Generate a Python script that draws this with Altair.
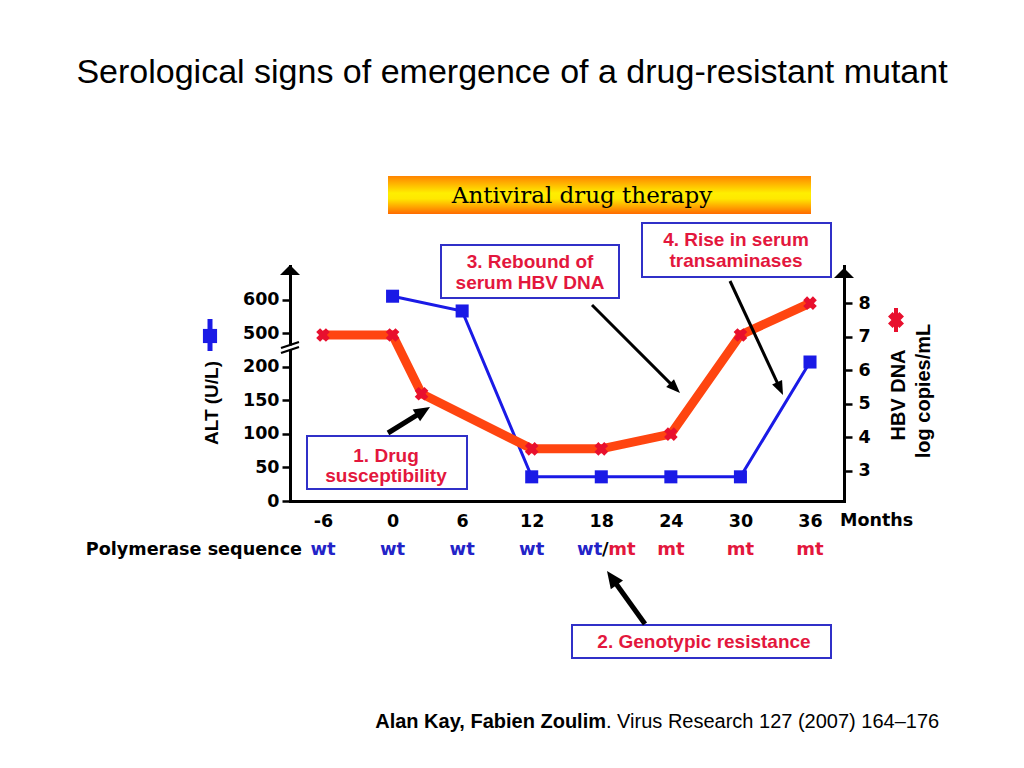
import json
import math
import altair as alt
import pandas as pd

# ---------------- data ----------------
months_axis = [-6, 0, 6, 12, 18, 24, 30, 36]
alt_months = [0, 6, 12, 18, 24, 30, 36]
alt_values = [610, 566, 36, 36, 36, 36, 207]          # ALT (U/L)
hbv_months = [-6, 0, 2.5, 12, 18, 24, 30, 36]
hbv_values = [7.05, 7.05, 5.3, 3.66, 3.66, 4.1, 7.05, 8.0]  # log copies/mL
alt_tick_pos = [0, 1, 2, 3, 4, 5, 6]
alt_tick_labels = ["0", "50", "100", "150", "200", "500", "600"]
hbv_ticks = [3, 4, 5, 6, 7, 8]
seq_labels = ["wt", "wt", "wt", "wt", "wt/mt", "mt", "mt", "mt"]

# ---------------- style ----------------
SANS = "Liberation Sans"
DJV = "DejaVu Sans"
BLUE = "#1a1ae6"
LINE_RED = "#ff4510"
MARK_RED = "#e8102e"
BOX_BLUE = "#3030c8"
TXT_RED = "#e3173d"
SEQ_BLUE = "#2323c8"

W, H = 554, 235
PX0, PX1, PY0, PY1 = 290, 844, 266, 501

ax_common = dict(title=None, grid=False, domainColor="black", domainWidth=3, domainCap="square",
                 tickColor="black", tickWidth=2.5, labelFont=DJV, labelFontSize=17.5,
                 labelFontWeight="bold", labelColor="black", labelFlush=False, labelOverlap=False)

X = alt.X("m:Q", scale=alt.Scale(domain=[-8.846, 38.932], nice=False, zero=False),
          axis=alt.Axis(values=months_axis, tickSize=0, labelPadding=11,
                        labelExpr="'' + datum.value", **ax_common))

label_expr = json.dumps(alt_tick_labels) + "[datum.value]"
Y_LEFT = alt.Y("pos:Q", scale=alt.Scale(domain=[0, 7], nice=False, zero=False),
               axis=alt.Axis(values=alt_tick_pos, labelExpr=label_expr, orient="left",
                             tickSize=8, labelPadding=3, **ax_common))
Y_RIGHT = alt.Y("v:Q", scale=alt.Scale(domain=[2.106, 9.106], nice=False, zero=False),
                axis=alt.Axis(values=hbv_ticks, orient="right", tickSize=8, labelPadding=6, **ax_common))

# ---------------- data layers ----------------
alt_df = pd.DataFrame({"m": alt_months, "alt_ul": alt_values})
alt_base = alt.Chart(alt_df).transform_calculate(
    pos="datum.alt_ul <= 350 ? datum.alt_ul / 50 : 5 + (datum.alt_ul - 500) / 100")
alt_line = alt_base.mark_line(color=BLUE, strokeWidth=3).encode(x=X, y=Y_LEFT)
alt_pts = alt_base.mark_square(color=BLUE, size=170, opacity=1).encode(x=X, y=Y_LEFT)

SEQ_Y = 550 - PY0
SEQ_FS = 18
seq_rows = []
for m, s in zip(months_axis, seq_labels):
    if "/" not in s:
        seq_rows.append({"m": m, "s": s, "c": SEQ_BLUE if s == "wt" else TXT_RED})
seq_df = pd.DataFrame(seq_rows)
seq_layer = alt.Chart(seq_df).mark_text(font=DJV, fontSize=SEQ_FS, fontWeight="bold", baseline="middle").encode(
    x=X, y=alt.value(SEQ_Y), text="s:N", color=alt.Color("c:N", scale=None))
mixed_layers = []
for m, s in zip(months_axis, seq_labels):
    if "/" not in s:
        continue
    a, b = s.split("/")
    d = pd.DataFrame({"m": [m]})
    kw = dict(font=DJV, fontSize=SEQ_FS, fontWeight="bold", baseline="middle")
    mixed_layers.append(alt.Chart(d).mark_text(align="right", dx=1, color=SEQ_BLUE, text=a, **kw)
                        .encode(x=X, y=alt.value(SEQ_Y)))
    mixed_layers.append(alt.Chart(d).mark_text(align="center", dx=4, color="black", text="/", **kw)
                        .encode(x=X, y=alt.value(SEQ_Y)))
    mixed_layers.append(alt.Chart(d).mark_text(align="left", dx=7, color=TXT_RED, text=b, **kw)
                        .encode(x=X, y=alt.value(SEQ_Y)))

left_group = alt.layer(alt_line, alt_pts, seq_layer, *mixed_layers)

hbv_df = pd.DataFrame({"m": hbv_months, "v": hbv_values})
hbv_line = alt.Chart(hbv_df).mark_line(color=LINE_RED, strokeWidth=9).encode(x=X, y=Y_RIGHT)
hbv_pts = alt.Chart(hbv_df).mark_point(shape="cross", angle=45, filled=True, color=MARK_RED,
                                      size=190, opacity=1).encode(x=X, y=Y_RIGHT)
right_group = alt.layer(hbv_line, hbv_pts)

data_group = alt.layer(left_group, right_group).resolve_scale(y="independent")

# ---------------- decorations (page pixel coordinates) ----------------
DX = alt.X("x:Q", scale=alt.Scale(domain=[PX0, PX1], nice=False, zero=False), axis=None)
DY = alt.Y("y:Q", scale=alt.Scale(domain=[PY0, PY1], nice=False, zero=False, reverse=True), axis=None)


def texts(rows, size, weight="bold", font=SANS, color="black", align="center", angle=0):
    df = pd.DataFrame(rows, columns=["x", "y", "t"])
    return alt.Chart(df).mark_text(fontSize=size, fontWeight=weight, font=font, color=color,
                                   align=align, angle=angle, baseline="middle").encode(x=DX, y=DY, text="t:N")


def rules(rows, width, color="black"):
    df = pd.DataFrame(rows, columns=["x", "y", "x2", "y2"])
    return alt.Chart(df).mark_rule(strokeWidth=width, color=color).encode(
        x=DX, y=DY, x2="x2:Q", y2="y2:Q")


def rects(rows, **kw):
    df = pd.DataFrame(rows, columns=["x", "y", "x2", "y2"])
    return alt.Chart(df).mark_rect(**kw).encode(x=DX, y=DY, x2="x2:Q", y2="y2:Q")


deco = []
# title & citation
deco.append(texts([(512, 73, "Serological signs of emergence of a drug-resistant mutant")], 34, weight="normal"))
deco.append(texts([(606, 722, "Alan Kay, Fabien Zoulim")], 20, align="right"))
deco.append(texts([(606, 722, ". Virus Research 127 (2007) 164\u2013176")], 20, weight="normal", align="left"))

# banner
grad = alt.Gradient(gradient="linear",
                    stops=[alt.GradientStop(color="#ff8400", offset=0),
                           alt.GradientStop(color="#ffee00", offset=0.45),
                           alt.GradientStop(color="#ffe800", offset=0.6),
                           alt.GradientStop(color="#ff6a00", offset=1)],
                    x1=0, x2=0, y1=0, y2=1)
deco.append(rects([(388, 176, 811, 214)], fill=grad))
deco.append(texts([(582, 196, "Antiviral drug therapy")], 23, weight="normal", font="DejaVu Serif"))

# annotation boxes
boxes = [(307, 436, 467, 489), (441, 245, 619, 298), (642, 223, 831, 277), (572, 625, 831, 658)]
deco.append(rects(boxes, fill="white", stroke=BOX_BLUE, strokeWidth=2))
deco.append(texts([(386, 456, "1. Drug"), (386, 476, "susceptibility"),
                   (530, 262, "3. Rebound of"), (530, 283, "serum HBV DNA"),
                   (736, 240, "4. Rise in serum"), (736, 261, "transaminases"),
                   (704, 642, "2. Genotypic resistance")], 19, color=TXT_RED))

# arrows
arrows = [((388, 433), (430, 407), 5, 16, 14), ((645, 624), (607, 571), 5, 17, 15),
          ((592, 305), (680, 393), 3, 14, 11), ((730, 281), (783, 395), 3, 14, 11)]
for (tx, ty), (hx, hy), lw, hl, hw in arrows:
    dx, dy = hx - tx, hy - ty
    n = math.hypot(dx, dy)
    ux, uy = dx / n, dy / n
    ex, ey = hx - ux * hl * 0.7, hy - uy * hl * 0.7
    deco.append(rules([(tx, ty, ex, ey)], lw))
    ang = math.degrees(math.atan2(dx, -dy)) % 360
    path = f"M 0 0 L {hw / 20:.3f} {hl / 10:.3f} L {-hw / 20:.3f} {hl / 10:.3f} Z"
    hd = pd.DataFrame({"x": [hx], "y": [hy]})
    deco.append(alt.Chart(hd).mark_point(shape=path, filled=True, color="black", size=400, opacity=1,
                                         strokeWidth=0, angle=ang).encode(x=DX, y=DY))

# axis arrowheads
tri = "M -1 0 L 0 -1 L 1 0 Z"
ah = pd.DataFrame({"x": [PX0, PX1], "y": [275, 278]})
deco.append(alt.Chart(ah).mark_point(shape=tri, filled=True, color="black", size=400, opacity=1,
                                     strokeWidth=0).encode(x=DX, y=DY))

# axis break on the left axis
deco.append(rects([(287, 345.5, 293, 349.5)], fill="white"))
deco.append(rules([(281, 348, 299, 342), (281, 353, 299, 347)], 2.2))

# axis titles, row label and series symbols
deco.append(texts([(212, 403, "ALT (U/L)")], 19, angle=270))
deco.append(texts([(899, 395, "HBV DNA")], 20, angle=270))
deco.append(texts([(924, 391, "log copies/mL")], 20, angle=270))
deco.append(texts([(840, 521, "Months")], 17.5, font=DJV, align="left"))
deco.append(texts([(302, 550, "Polymerase sequence")], 17.6, font=DJV, align="right"))
deco.append(rules([(210, 319, 210, 351)], 5, color=BLUE))
deco.append(alt.Chart(pd.DataFrame({"x": [210], "y": [336]})).mark_square(
    color=BLUE, size=200, opacity=1).encode(x=DX, y=DY))
deco.append(rules([(896, 308, 896, 332)], 4, color=MARK_RED))
deco.append(alt.Chart(pd.DataFrame({"x": [896], "y": [320]})).mark_point(
    shape="cross", angle=45, filled=True, color=MARK_RED, size=260, opacity=1).encode(x=DX, y=DY))

deco_group = alt.layer(*deco)

chart = alt.layer(data_group, deco_group).resolve_scale(x="independent", y="independent").properties(
    width=W, height=H,
    padding={"left": PX0 - 8, "top": PY0 - 8, "right": 1016 - PX1, "bottom": 250},
    autosize=alt.AutoSizeParams(type="none"),
    background="white",
).configure_view(strokeWidth=0)

chart.save("out.html", embed_options={"renderer": "svg", "actions": False})
